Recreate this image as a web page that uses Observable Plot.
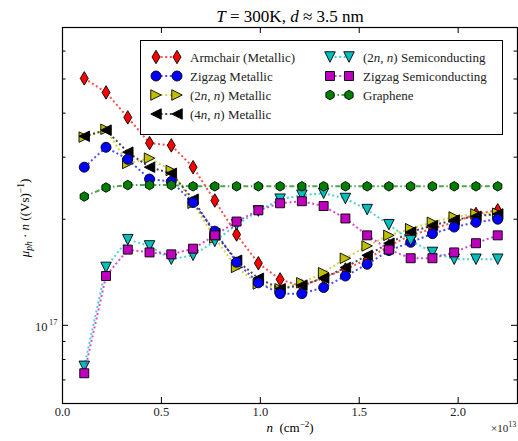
<!DOCTYPE html>
<html><head><meta charset="utf-8">
<script src="https://cdn.jsdelivr.net/npm/d3@7"></script>
<script src="https://cdn.jsdelivr.net/npm/@observablehq/plot@0.6"></script>
<style>body{margin:0;background:#fff} svg{display:block}</style>
</head><body><div id="chart"></div>
<script>
// carrier density n (units of 1e13 cm^-2)
const nValues = [0.11,0.22,0.33,0.44,0.55,0.66,0.77,0.88,0.99,1.10,1.21,1.32,1.43,1.54,1.65,1.76,1.87,1.98,2.09,2.20];
// mu_ph * n (units of 1e17 (Vs)^-1)
const armchairMetallic = [5.02,4.58,3.89,3.29,3.24,2.81,2.26,1.81,1.50,1.35,1.29,1.37,1.44,1.54,1.68,1.80,1.88,1.96,2.07,2.12];
const zigzagMetallic   = [2.81,3.20,2.96,2.60,2.56,2.23,1.85,1.51,1.32,1.23,1.23,1.28,1.38,1.49,1.63,1.72,1.82,1.90,1.96,2.00];
const metallic2n       = [3.42,3.60,2.88,2.98,2.75,2.22,1.77,1.46,1.31,1.27,1.32,1.41,1.55,1.68,1.80,1.88,1.96,2.03,2.07,2.08];
const metallic4n       = [3.44,3.58,3.10,2.81,2.70,2.28,1.82,1.53,1.36,1.27,1.30,1.36,1.46,1.58,1.71,1.84,1.92,1.99,2.04,2.07];
const semi2n           = [0.765,1.46,1.75,1.68,1.54,1.58,1.73,1.93,2.11,2.28,2.34,2.37,2.29,2.13,1.93,1.74,1.61,1.54,1.54,1.54];
const zigzagSemi       = [0.731,1.38,1.64,1.61,1.59,1.65,1.80,1.97,2.12,2.22,2.25,2.18,2.01,1.80,1.64,1.55,1.55,1.61,1.71,1.80];
const graphene         = [2.32,2.46,2.50,2.50,2.50,2.48,2.48,2.48,2.48,2.48,2.48,2.48,2.48,2.48,2.48,2.48,2.48,2.48,2.48,2.48];

const xTicks = [0.0, 0.5, 1.0, 1.5, 2.0];
const xTickLabels = ["0.0","0.5","1.0","1.5","2.0"];
const yMajorTicks = [1];
const yMinorTicks = [0.7,0.8,0.9,2,3,4,5,6];

// custom matplotlib-like marker symbols
function sym(f){ return {draw(c, size){ const r = Math.sqrt(size/Math.PI); f(c, r); }}; }
const thinDiamond = sym((c,r)=>{ c.moveTo(0,-1.35*r); c.lineTo(0.8*r,0); c.lineTo(0,1.35*r); c.lineTo(-0.8*r,0); c.closePath(); });
const triRight = sym((c,r)=>{ c.moveTo(1.05*r,0); c.lineTo(-1.05*r,-1.05*r); c.lineTo(-1.05*r,1.05*r); c.closePath(); });
const triLeft  = sym((c,r)=>{ c.moveTo(-1.05*r,0); c.lineTo(1.05*r,-1.05*r); c.lineTo(1.05*r,1.05*r); c.closePath(); });
const triDown  = sym((c,r)=>{ c.moveTo(0,1.05*r); c.lineTo(-1.05*r,-1.05*r); c.lineTo(1.05*r,-1.05*r); c.closePath(); });
const square   = sym((c,r)=>{ const h=0.9*r; c.rect(-h,-h,2*h,2*h); });
const hexagon  = sym((c,r)=>{ const R=0.95*r; for(let k=0;k<6;k++){ const a=Math.PI/2+k*Math.PI/3; const x=R*Math.cos(a), y=-R*Math.sin(a); k?c.lineTo(x,y):c.moveTo(x,y);} c.closePath(); });
const circle   = sym((c,r)=>{ c.moveTo(r,0); c.arc(0,0,r,0,2*Math.PI); });

const DOT = "2,2.6";
const series = [
  {key:"armchair", values: armchairMetallic, color:"#ff0000", symbol: thinDiamond, dash: DOT, label:[["Armchair (Metallic)",0]]},
  {key:"2n",       values: metallic2n,       color:"#bfbf00", symbol: triRight, dash: DOT, label:[["(2",0],["n",1],[", ",0],["n",1],[") Metallic",0]]},
  {key:"4n",       values: metallic4n,       color:"#000000", symbol: triLeft, dash: DOT, label:[["(4",0],["n",1],[", ",0],["n",1],[") Metallic",0]]},
  {key:"zigzag",   values: zigzagMetallic,   color:"#0000ff", symbol: circle, dash: DOT, label:[["Zigzag Metallic",0]]},
  {key:"semi2n",   values: semi2n,           color:"#00bfbf", symbol: triDown, dash: DOT, label:[["(2",0],["n",1],[", ",0],["n",1],[") Semiconducting",0]]},
  {key:"zzsemi",   values: zigzagSemi,       color:"#bf00bf", symbol: square, dash: DOT, label:[["Zigzag Semiconducting",0]]},
  {key:"graphene", values: graphene,         color:"#008000", symbol: hexagon, dash: "5,2.5,1.5,2.5", label:[["Graphene",0]]},
];

const frameW = 455, frameH = 376;
const marks = [
  Plot.frame({stroke:"black", strokeWidth:1.2}),
  Plot.tickX(xTicks, {x: d=>d, insetTop: frameH-6, stroke:"black"}),
  Plot.tickX(xTicks, {x: d=>d, insetBottom: frameH-6, stroke:"black"}),
  Plot.tickY(yMajorTicks, {y: d=>d, insetRight: frameW-6, stroke:"black"}),
  Plot.tickY(yMajorTicks, {y: d=>d, insetLeft: frameW-6, stroke:"black"}),
  Plot.tickY(yMinorTicks, {y: d=>d, insetRight: frameW-3.5, stroke:"black"}),
  Plot.tickY(yMinorTicks, {y: d=>d, insetLeft: frameW-3.5, stroke:"black"}),
  Plot.text(xTicks, {x: d=>d, text: (d,i)=>xTickLabels[i], frameAnchor:"bottom", dy: 12, fontSize: 12.5, fill:"#222"}),
  Plot.text(yMajorTicks, {y: d=>d, text: ()=>"10", frameAnchor:"left", dx: -15, textAnchor:"end", dy: 2, fontSize: 12.5, fill:"#222"}),
  Plot.text(yMajorTicks, {y: d=>d, text: ()=>"17", frameAnchor:"left", dx: -5, textAnchor:"end", dy: -3, fontSize: 8.5, fill:"#222"}),
];
const order = ["armchair","2n","4n","zigzag","semi2n","zzsemi","graphene"];
for (const k of order) {
  const s = series.find(d=>d.key===k);
  const data = nValues.map((n,i)=>({n, v: s.values[i]}));
  marks.push(Plot.line(data, {x:"n", y:"v", stroke: s.color, strokeWidth: 2, strokeOpacity: 0.7, strokeDasharray: s.dash, strokeLinecap:"butt"}));
  marks.push(Plot.dot(data, {x:"n", y:"v", symbol: s.symbol, r: 5, fill: s.color, stroke:"black", strokeWidth: 0.9}));
}

const svg = Plot.plot({
  width: 518, height: 441,
  marginTop: 27, marginBottom: 38, marginLeft: 62, marginRight: 1,
  x: {domain: [0, 2.3], axis: null},
  y: {type: "log", domain: [0.6, 7], axis: null},
  style: {fontFamily: "'Liberation Serif', serif", fontSize: "12px", background: "white", overflow: "visible", color: "black"},
  marks
});
document.getElementById("chart").append(svg);

// annotations: title, axis labels, legend
const S = d3.select(svg);
function richText(sel, parts){ for (const [t, it] of parts) { const ts = sel.append("tspan").text(t); if (it) ts.attr("font-style","italic"); } }

const title = S.append("text").attr("x", 290).attr("y", 22).attr("text-anchor","middle").style("font-size","17px");
richText(title, [["T",1],[" = 300K, ",0],["d",1],[" ≈ 3.5 nm",0]]);

const xl = S.append("text").attr("x", 290).attr("y", 432).attr("text-anchor","middle").style("font-size","13px");
richText(xl, [["n",1],["  (cm",0]]);
xl.append("tspan").attr("dy",-5).style("font-size","9px").text("−2");
xl.append("tspan").attr("dy",5).text(")");

const xo = S.append("text").attr("x", 491).attr("y", 432).attr("text-anchor","start").style("font-size","11px").attr("fill","#222");
xo.append("tspan").text("×10");
xo.append("tspan").attr("dy",-5).style("font-size","8px").text("13");

const yl = S.append("text").attr("transform","translate(29,218) rotate(-90)").attr("text-anchor","middle").style("font-size","13px");
yl.append("tspan").attr("font-style","italic").text("μ");
yl.append("tspan").attr("font-style","italic").attr("dy",3).style("font-size","9.5px").text("ph");
yl.append("tspan").attr("dy",-3).text(" · ");
yl.append("tspan").attr("font-style","italic").text("n");
yl.append("tspan").text(" ((Vs)");
yl.append("tspan").attr("dy",-5).style("font-size","9.5px").text("−1");
yl.append("tspan").attr("dy",5).text(")");

// legend
const L = S.append("g");
L.append("rect").attr("x",140.5).attr("y",40.5).attr("width",362).attr("height",94).attr("fill","white").attr("stroke","black").attr("stroke-width",1);
const legendOrder = ["armchair","zigzag","2n","4n","semi2n","zzsemi","graphene"];
legendOrder.forEach((k, i) => {
  const s = series.find(d=>d.key===k);
  const col = i < 4 ? 0 : 1, row = i < 4 ? i : i-4;
  const x1 = col ? 330 : 156, x2 = col ? 349 : 177, tx = col ? 363 : 190;
  const y = 57 + row*19;
  L.append("line").attr("x1",x1).attr("x2",x2).attr("y1",y).attr("y2",y).attr("stroke",s.color).attr("stroke-width",2).attr("stroke-opacity",0.7).attr("stroke-dasharray",s.dash);
  for (const x of [x1,x2]) {
    const p = d3.path(); s.symbol.draw(p, 25*Math.PI);
    L.append("path").attr("d", p.toString()).attr("transform",`translate(${x},${y})`).attr("fill",s.color).attr("stroke","black").attr("stroke-width",0.9);
  }
  const t = L.append("text").attr("x",tx).attr("y",y+4.5).attr("text-anchor","start").style("font-size","13px").attr("fill","#222");
  richText(t, s.label);
});
</script>
</body></html>
